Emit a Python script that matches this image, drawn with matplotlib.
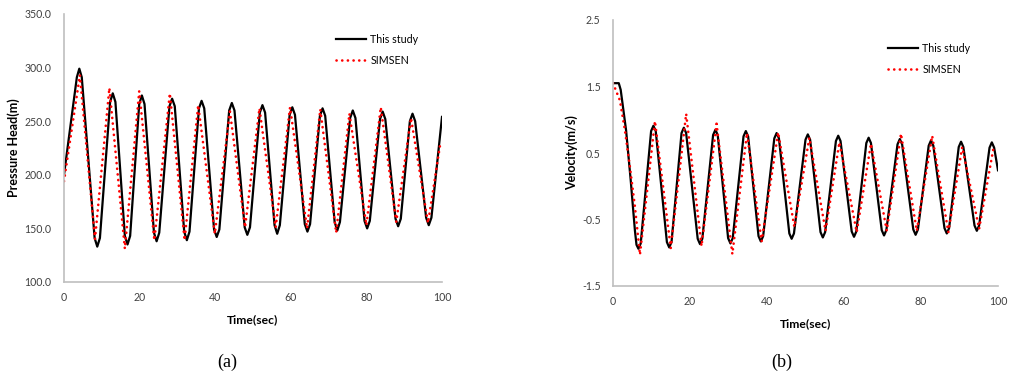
import numpy as np
import matplotlib
matplotlib.use('Agg')
import matplotlib.pyplot as plt
from matplotlib.ticker import FormatStrFormatter

# (a) pressure head, "This study"
head_t = [0, 3.4, 4.05, 4.7, 8.1, 8.8, 9.5, 12.2, 12.9, 13.6, 16.1, 16.8, 17.5,
          19.9, 20.6, 21.3, 23.8, 24.5, 25.2, 27.9, 28.6, 29.3, 31.8, 32.5, 33.2,
          35.7, 36.4, 37.1, 39.7, 40.4, 41.1, 43.7, 44.4, 45.1, 47.8, 48.5, 49.2,
          51.8, 52.5, 53.2, 55.7, 56.4, 57.1, 59.7, 60.4, 61.1, 63.7, 64.4, 65.1,
          67.7, 68.4, 69.1, 71.6, 72.3, 73.0, 75.7, 76.4, 77.1, 79.5, 80.2, 80.9,
          83.6, 84.3, 85.0, 87.7, 88.4, 89.1, 91.5, 92.2, 92.9, 95.8, 96.5, 97.2, 100]
head_study = [200, 291, 299, 291, 141, 133, 141, 268, 276, 268, 143, 135, 143,
              266, 274, 266, 146, 138, 146, 264, 271, 264, 147, 139, 147,
              262, 269, 262, 149, 142, 149, 260, 267, 260, 151, 144, 151,
              258, 265, 258, 153, 145, 153, 256, 263, 256, 154, 147, 154,
              255, 262, 255, 156, 148, 156, 253, 260, 253, 157, 150, 157,
              252, 259, 252, 159, 152, 159, 250, 257, 250, 160, 153, 160, 254]

# (a) pressure head, SIMSEN
head_t_sim = [0, 4.2, 8.2, 12.0, 16.1, 19.9, 23.9, 28.0, 31.9, 35.5, 39.9, 43.9, 47.9,
              51.7, 56.0, 59.8, 64.3, 67.8, 72.0, 75.5, 80.0, 83.8, 87.9, 91.8, 96.3, 99.5]
head_simsen = [194, 293, 140, 281, 131, 278, 139, 276, 139, 265, 145, 259, 151,
               262, 151, 263, 150, 261, 146, 257, 153, 263, 156, 253, 155, 228]

# (b) velocity, "This study"
vel_t = [0, 1.5, 2.0, 3.4, 4.6, 5.7, 6.1, 6.6, 7.2,
         9.9, 10.5, 11.1, 14.0, 14.6, 15.2, 17.8, 18.4, 19.0, 22.0, 22.6, 23.2,
         26.0, 26.6, 27.2, 29.9, 30.5, 31.1, 33.9, 34.5, 35.1, 37.8, 38.4, 39.0,
         41.9, 42.5, 43.1, 45.8, 46.4, 47.0, 50.0, 50.6, 51.2, 53.9, 54.5, 55.1,
         57.9, 58.5, 59.1, 62.0, 62.6, 63.2, 65.8, 66.4, 67.0, 69.8, 70.4, 71.0,
         73.9, 74.5, 75.1, 78.0, 78.6, 79.2, 82.0, 82.6, 83.2, 86.1, 86.7, 87.3,
         89.8, 90.4, 91.0, 93.9, 94.5, 95.1, 97.8, 98.4, 99.0, 100]
vel_study = [1.55, 1.55, 1.45, 0.84, 0.09, -0.67, -0.88, -0.94, -0.86,
             0.83, 0.91, 0.83, -0.84, -0.92, -0.84, 0.80, 0.88, 0.80, -0.79, -0.87, -0.79,
             0.77, 0.85, 0.77, -0.78, -0.86, -0.78, 0.75, 0.83, 0.75, -0.75, -0.83, -0.75,
             0.72, 0.80, 0.72, -0.71, -0.79, -0.71, 0.70, 0.78, 0.70, -0.69, -0.77, -0.69,
             0.68, 0.76, 0.68, -0.68, -0.76, -0.68, 0.65, 0.73, 0.65, -0.66, -0.74, -0.66,
             0.63, 0.71, 0.63, -0.65, -0.73, -0.65, 0.61, 0.69, 0.61, -0.63, -0.71, -0.63,
             0.59, 0.67, 0.59, -0.59, -0.67, -0.59, 0.58, 0.66, 0.58, 0.24]

# (b) velocity, SIMSEN
vel_t_sim = [0, 1.8, 3.1, 4.4, 5.7, 7.0, 10.9, 15.0, 19.0, 23.0, 26.9, 31.0, 34.8,
             38.6, 42.9, 47.1, 51.0, 55.2, 58.8, 63.3, 67.0, 71.1, 74.8, 78.9,
             82.9, 87.1, 90.7, 95.1, 98.9]
vel_simsen = [1.55, 1.29, 0.84, 0.29, -0.31, -1.03, 0.98, -0.93, 1.09, -0.90, 0.94, -1.02, 0.80,
              -0.83, 0.81, -0.61, 0.73, -0.67, 0.66, -0.69, 0.64, -0.67, 0.79, -0.67,
              0.76, -0.69, 0.59, -0.64, 0.60]

plt.rcParams['font.family'] = ['Lato', 'DejaVu Sans']

fig = plt.figure(figsize=(10.12, 3.75), dpi=100)
W, H = 1012, 375
ax1 = fig.add_axes([64 / W, 1 - 282 / H, 378 / W, 268 / H])
ax2 = fig.add_axes([613 / W, 1 - 286 / H, 385 / W, 266 / H])

dot_style = dict(color='#ff0000', lw=1.9, linestyle=(0, (0.05, 2.1)), dash_capstyle='round')
line_style = dict(color='black', lw=1.6, solid_joinstyle='round')

ax1.plot(head_t, head_study, label='This study', **line_style)
ax1.plot(head_t_sim, head_simsen, label='SIMSEN', **dot_style)
ax2.plot(vel_t, vel_study, label='This study', **line_style)
ax2.plot(vel_t_sim, vel_simsen, label='SIMSEN', **dot_style)

ax1.set_xlim(0, 100)
ax1.set_ylim(100, 350)
ax1.set_yticks([100, 150, 200, 250, 300, 350])
ax1.yaxis.set_major_formatter(FormatStrFormatter('%.1f'))
ax2.set_xlim(0, 100)
ax2.set_ylim(-1.5, 2.5)
ax2.set_yticks([-1.5, -0.5, 0.5, 1.5, 2.5])
ax2.yaxis.set_major_formatter(FormatStrFormatter('%.1f'))

for ax in (ax1, ax2):
    ax.set_xticks([0, 20, 40, 60, 80, 100])
    for s in ('top', 'right'):
        ax.spines[s].set_visible(False)
    for s in ('left', 'bottom'):
        ax.spines[s].set_color('#bfbfbf')
        ax.spines[s].set_linewidth(1.2)
    ax.tick_params(length=0, labelsize=7.6, labelcolor='#404040')
    ax.tick_params(axis='y', pad=9)
    ax.tick_params(axis='x', pad=7)
    ax.set_xlabel('Time(sec)', fontsize=8.7, fontweight='bold', labelpad=8)

ax1.set_ylabel('Pressure Head(m)', fontsize=9, fontweight='bold', labelpad=3)
ax2.set_ylabel('Velocity(m/s)', fontsize=9, fontweight='bold', labelpad=3)

leg_kw = dict(loc='upper left', frameon=False, fontsize=7.7, handlelength=2.8,
              handletextpad=0.4, labelspacing=0.9, borderpad=0, borderaxespad=0)
ax1.legend(bbox_to_anchor=(336 / W, 1 - 34 / H), bbox_transform=fig.transFigure, **leg_kw)
ax2.legend(bbox_to_anchor=(888 / W, 1 - 43 / H), bbox_transform=fig.transFigure, **leg_kw)

fig.text(227 / W, 1 - 362 / H, '(a)', family='Liberation Serif', fontsize=13,
         ha='center', va='center')
fig.text(782 / W, 1 - 362 / H, '(b)', family='Liberation Serif', fontsize=13,
         ha='center', va='center')

fig.savefig('out.png', dpi=100)
